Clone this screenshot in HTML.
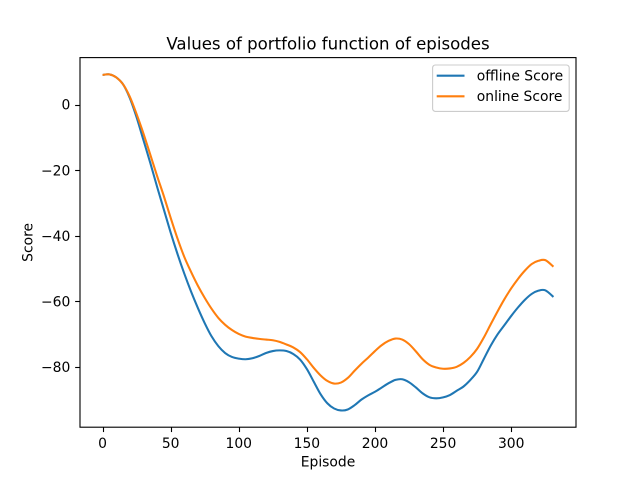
<!DOCTYPE html>
<html>
<head>
<meta charset="utf-8">
<style>
html,body{margin:0;padding:0;background:#fff;width:640px;height:480px;overflow:hidden}
svg{display:block}
text{font-family:"DejaVu Sans",sans-serif;fill:#000}
</style>
</head>
<body>
<svg id="chart" width="640" height="480" viewBox="0 0 640 480" xmlns="http://www.w3.org/2000/svg">
<rect x="0" y="0" width="640" height="480" fill="#fff"/>
<g id="ticks"></g>
<g id="series"></g>
<rect x="80" y="57.6" width="496" height="369.6" fill="none" stroke="#000" stroke-width="1.11"/>
<text x="328" y="49.3" font-size="16.6" text-anchor="middle">Values of portfolio function of episodes</text>
<text x="328" y="466.5" font-size="13.89" text-anchor="middle">Episode</text>
<text transform="translate(32.5,242.4) rotate(-90)" font-size="13.89" text-anchor="middle">Score</text>
<g>
<rect x="432.6" y="65" width="136.6" height="46.4" rx="2.8" fill="#fff" fill-opacity="0.8" stroke="#ccc" stroke-width="1.11"/>
<line x1="436.7" y1="75.7" x2="464.5" y2="75.7" stroke="#1f77b4" stroke-width="2.08"/>
<text x="476.8" y="80.6" font-size="13.89">offline Score</text>
<line x1="436.7" y1="96.3" x2="464.5" y2="96.3" stroke="#ff7f0e" stroke-width="2.08"/>
<text x="476.8" y="101.2" font-size="13.89">online Score</text>
</g>
</svg>
<script>
const episodes = [0,5,10,15,20,25,30,35,40,45,50,55,60,65,70,75,80,85,90,95,100,105,110,115,120,125,130,135,140,145,150,155,160,165,170,175,180,185,190,195,200,205,210,215,220,225,230,235,240,245,250,255,260,265,270,275,280,285,290,295,300,305,310,315,320,325,331];
const offlineScore = [9.0,9.2,8.3,6.2,2,-3.9,-10.8,-17.7,-25,-32,-39,-45.5,-51.5,-57,-62,-66.6,-70.6,-73.6,-75.7,-76.9,-77.4,-77.6,-77.3,-76.6,-75.7,-75.1,-74.9,-75.1,-76,-77.7,-80.6,-84.4,-88.2,-91,-92.6,-93.2,-92.9,-91.6,-89.9,-88.6,-87.5,-86.2,-84.9,-83.9,-83.7,-84.6,-86.2,-88,-89.2,-89.5,-89.2,-88.5,-87.2,-85.9,-83.9,-81.4,-77.4,-73.4,-70,-67.2,-64.4,-61.8,-59.5,-57.7,-56.7,-56.6,-58.6];
const onlineScore = [9.0,9.2,8.3,6.2,2.4,-2.9,-8.8,-15.2,-21.7,-27.9,-34.5,-40.8,-46.4,-51,-55.2,-58.9,-62.2,-65,-67.1,-68.7,-69.9,-70.7,-71.1,-71.4,-71.6,-71.8,-72.3,-73.1,-74,-75.4,-77.6,-80.2,-82.5,-84.2,-85,-84.7,-83.3,-81.1,-79,-77.1,-75.1,-73.3,-72,-71.3,-71.6,-73,-75.2,-77.6,-79.3,-80.1,-80.5,-80.4,-79.9,-78.7,-76.9,-74.4,-70.9,-66.9,-63,-59.3,-56,-53.1,-50.6,-48.6,-47.6,-47.4,-49.4];
const xTickValues = [0,50,100,150,200,250,300];
const yTickValues = [0,-20,-40,-60,-80];

const NS = 'http://www.w3.org/2000/svg';
const plotLeft = 80, plotRight = 576, plotTop = 57.6, plotBottom = 427.2;
const xDomain = [-16.55, 347.55], yDomain = [-98.3, 14.3];
function xScale(v){ return plotLeft + (v - xDomain[0]) / (xDomain[1] - xDomain[0]) * (plotRight - plotLeft); }
function yScale(v){ return plotBottom - (v - yDomain[0]) / (yDomain[1] - yDomain[0]) * (plotBottom - plotTop); }
function smoothPath(xs, ys){
  const p = xs.map((x, i) => [xScale(x), yScale(ys[i])]);
  let d = 'M' + p[0][0].toFixed(2) + ' ' + p[0][1].toFixed(2);
  for (let i = 0; i < p.length - 1; i++) {
    const a = p[Math.max(i - 1, 0)], b = p[i], c = p[i + 1], e = p[Math.min(i + 2, p.length - 1)];
    const c1x = b[0] + (c[0] - a[0]) / 6, c1y = b[1] + (c[1] - a[1]) / 6;
    const c2x = c[0] - (e[0] - b[0]) / 6, c2y = c[1] - (e[1] - b[1]) / 6;
    d += 'C' + c1x.toFixed(2) + ' ' + c1y.toFixed(2) + ' ' + c2x.toFixed(2) + ' ' + c2y.toFixed(2) + ' ' + c[0].toFixed(2) + ' ' + c[1].toFixed(2);
  }
  return d;
}
const seriesGroup = document.getElementById('series');
const offlinePath = document.createElementNS(NS, 'path');


offlinePath.setAttribute('d', smoothPath(episodes, offlineScore));
offlinePath.setAttribute('fill', 'none');
offlinePath.setAttribute('stroke', '#1f77b4');
offlinePath.setAttribute('stroke-width', '2.08');
seriesGroup.appendChild(offlinePath);
const onlinePath = document.createElementNS(NS, 'path');


onlinePath.setAttribute('d', smoothPath(episodes, onlineScore));
onlinePath.setAttribute('fill', 'none');
onlinePath.setAttribute('stroke', '#ff7f0e');
onlinePath.setAttribute('stroke-width', '2.08');
seriesGroup.appendChild(onlinePath);

const tickGroup = document.getElementById('ticks');
xTickValues.forEach(function(v){
  const px = Math.round(xScale(v)) + 0.5;
  const mark = document.createElementNS(NS, 'line');
  
  
  mark.setAttribute('x1', px);
  mark.setAttribute('x2', px);
  mark.setAttribute('y1', plotBottom);
  mark.setAttribute('y2', plotBottom + 4.86);
  mark.setAttribute('stroke', '#000');
  mark.setAttribute('stroke-width', '1.11');
  tickGroup.appendChild(mark);
  const label = document.createElementNS(NS, 'text');
  
  
  label.setAttribute('x', xScale(v));
  label.setAttribute('y', '447.8');
  label.setAttribute('font-size', '13.89');
  label.setAttribute('text-anchor', 'middle');
  label.textContent = String(v);
  tickGroup.appendChild(label);
});
yTickValues.forEach(function(v){
  const py = Math.round(yScale(v)) + 0.5;
  const mark = document.createElementNS(NS, 'line');
  
  
  mark.setAttribute('x1', plotLeft - 4.86);
  mark.setAttribute('x2', plotLeft);
  mark.setAttribute('y1', py);
  mark.setAttribute('y2', py);
  mark.setAttribute('stroke', '#000');
  mark.setAttribute('stroke-width', '1.11');
  tickGroup.appendChild(mark);
  const label = document.createElementNS(NS, 'text');
  
  
  label.setAttribute('x', '70.3');
  label.setAttribute('y', yScale(v) + 5.1);
  label.setAttribute('font-size', '13.89');
  label.setAttribute('text-anchor', 'end');
  label.textContent = String(v).replace('-', '\u2212');
  tickGroup.appendChild(label);
});
</script>
</body>
</html>
